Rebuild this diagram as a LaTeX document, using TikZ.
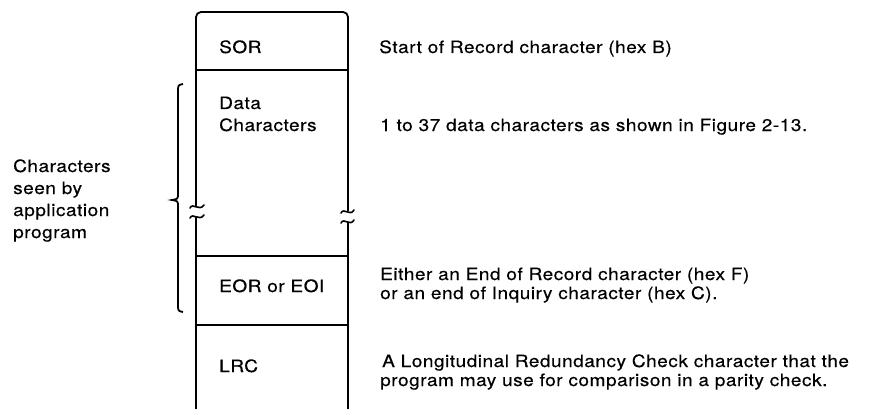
\documentclass[tikz,border=0pt]{standalone}
\usepackage{fontspec}
\setmainfont{TeX Gyre Heros}[FakeStretch=1.12, LetterSpace=3, FakeBold=0.4]
\usetikzlibrary{calc}

\tikzset{
  txt/.style={anchor=base west, inner sep=0pt},
  edge/.style={line width=1.8pt},
  brk/.style={line width=1.6pt, line cap=round}
}

\begin{document}
\begin{tikzpicture}[x=1pt,y=-1pt,font=\fontsize{17}{19}\selectfont]
            \useasboundingbox (0,0) rectangle (890,409);

            % corners of the record box
            \coordinate (tl) at (196,12);
            \coordinate (tr) at (348,12);
            \coordinate (bl) at (196,409);
            \coordinate (br) at (348,409);

            % outline, open at the bottom, broken in the data part
            \draw[edge, rounded corners=5pt] (196,206) -- (tl) -- (tr) -- (348,211);
            \draw[edge] (196,217) -- (bl);
            \draw[edge] (348,222) -- (br);

            % the two breaks
            \draw[brk] (190,208) .. controls (193,202) and (199,212) .. (204,205);
            \draw[brk] (190,218) .. controls (193,212) and (199,222) .. (204,215);
            \draw[brk] (341,213) .. controls (344,207) and (350,217) .. (354,210);
            \draw[brk] (341,223) .. controls (344,217) and (350,227) .. (354,220);

            % field lines
            \draw[edge] (196,70) coordinate(s1) -- (348,70);
            \draw[edge] (196,256) coordinate(s2) -- (348,256);
            \draw[edge] (196,325) coordinate(s3) -- (348,325);

            % brace round the data part
            \draw[edge] (183,84) .. controls (178,85) .. (178,92) -- (178,193)
                .. controls (178,199) .. (172,200) .. controls (178,201) .. (178,207)
                -- (178,304) .. controls (178,311) .. (183,312);

            % names of the fields
            \node[txt] (sor) at (219,53) {SOR};
            \node[txt] (data) at (219,109) {Data};
            \node[txt] (datab) at (219,131) {Characters};
            \node[txt] (eor) at (219,292) {EOR or EOI};
            \node[txt] (lrc) at (219,372) {LRC};

            % what they mean
            \node[txt] (sortxt) at (379,53) {Start of Record character (hex B)};
            \node[txt] (datatxt) at (380,131) {1 to 37 data characters as shown in Figure 2-13.};
            \node[txt] (eortxt) at (380,280) {Either an End of Record character (hex F)};
            \node[txt] (eortxtb) at (380,299) {or an end of Inquiry character (hex C).};
            \node[txt] (lrctxt) at (382,367) {A Longitudinal Redundancy Check character that the};
            \node[txt] (lrctxtb) at (380,386) {program may use for comparison in a parity check.};

            % left label
            \node[txt] (seen) at (13,172) {Characters};
            \node[txt] (seenb) at (13,194) {seen by};
            \node[txt] (seenc) at (13,216) {application};
            \node[txt] (seend) at (13,238) {program};
        \end{tikzpicture}
\end{document}
